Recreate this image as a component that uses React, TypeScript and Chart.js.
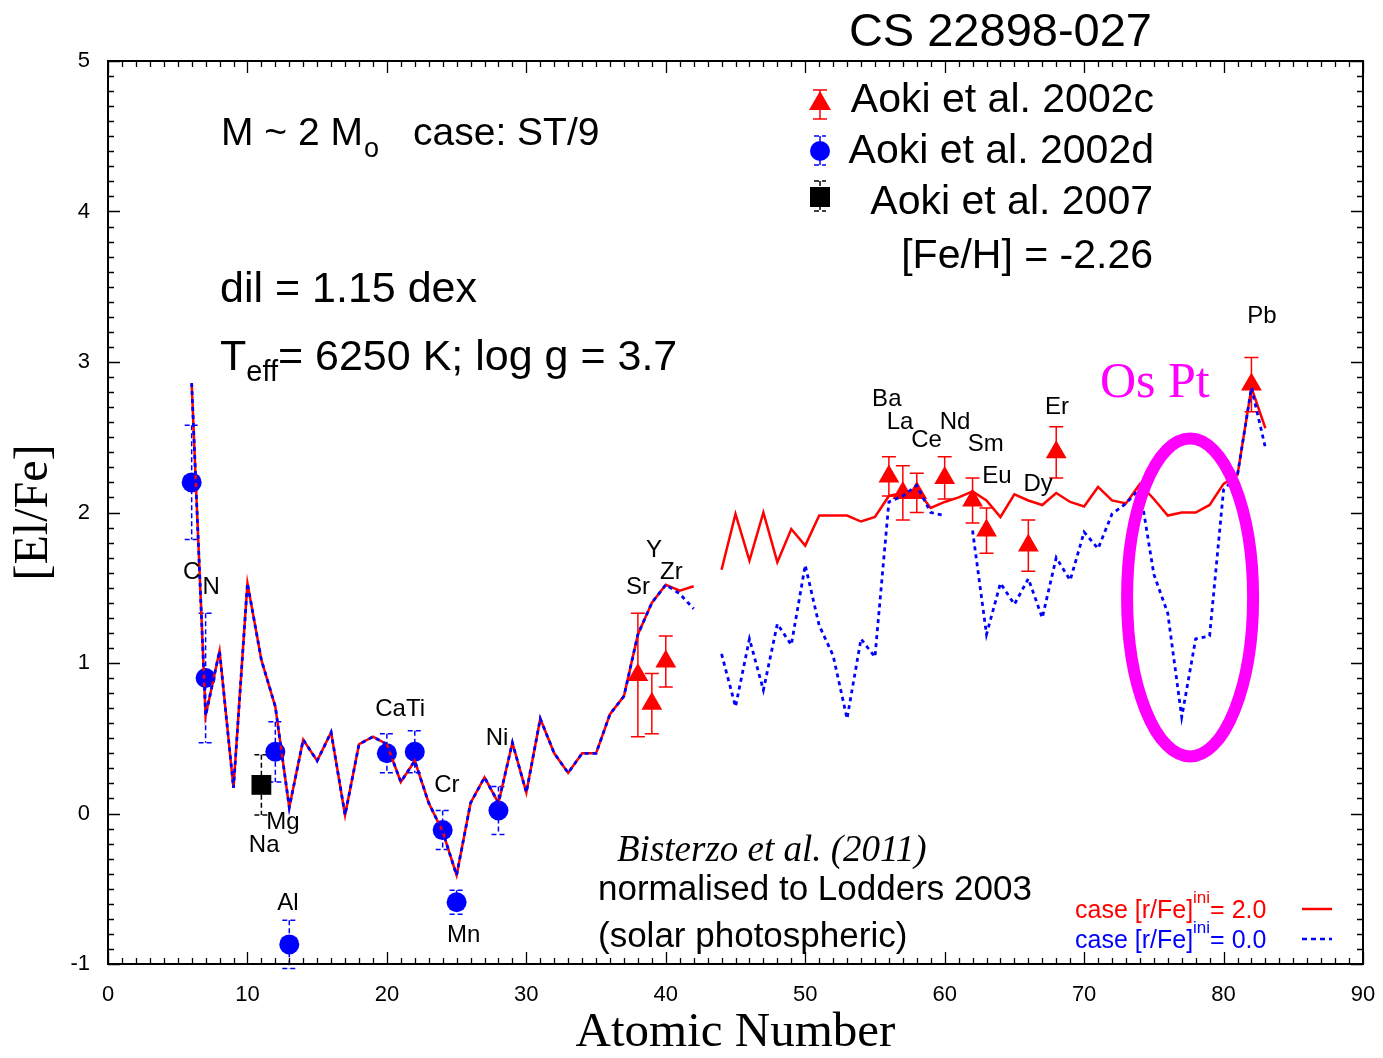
import React, { useEffect, useRef } from 'react';
import { Chart, registerables } from 'chart.js';

Chart.register(...registerables);

// ---------------- data ----------------
const modelZ = [
  6, 7, 8, 9, 10, 11, 12, 13, 14, 15, 16, 17, 18, 19, 20, 21, 22, 23, 24, 25,
  26, 27, 28, 29, 30, 31, 32, 33, 34, 35, 36, 37, 38, 39, 40, 41, 42, 43, 44, 45,
  46, 47, 48, 49, 50, 51, 52, 53, 54, 55, 56, 57, 58, 59, 60, 61, 62, 63, 64, 65,
  66, 67, 68, 69, 70, 71, 72, 73, 74, 75, 76, 77, 78, 79, 80, 81, 82, 83,
];
// case [r/Fe]ini = 2.0
const modelRFe2 = [
  2.86, 0.65, 1.08, 0.17, 1.53, 1.02, 0.71, 0.04, 0.49, 0.35, 0.54, -0.01, 0.46, 0.51, 0.46, 0.21, 0.35, 0.07, -0.12, -0.41,
  0.07, 0.24, 0.07, 0.47, 0.14, 0.63, 0.40, 0.27, 0.40, 0.40, 0.66, 0.78, 1.19, 1.40, 1.52, 1.48, 1.51, null, 1.62, 1.99,
  1.68, 2.00, 1.67, 1.89, 1.78, 1.98, 1.98, 1.98, 1.94, 1.97, 2.11, 2.13, 2.15, 2.03, 2.07, 2.10, 2.14, 2.08, 1.97, 2.12,
  2.08, 2.05, 2.13, 2.07, 2.04, 2.17, 2.08, 2.06, 2.19, 2.09, 1.98, 2.00, 2.00, 2.05, 2.19, 2.25, 2.83, 2.56,
];
// case [r/Fe]ini = 0.0
const modelRFe0 = [
  2.86, 0.65, 1.08, 0.17, 1.53, 1.02, 0.71, 0.04, 0.49, 0.35, 0.54, -0.01, 0.46, 0.51, 0.46, 0.21, 0.35, 0.07, -0.12, -0.41,
  0.07, 0.24, 0.07, 0.47, 0.14, 0.63, 0.40, 0.27, 0.40, 0.40, 0.66, 0.78, 1.19, 1.40, 1.52, 1.46, 1.36, null, 1.06, 0.71,
  1.16, 0.82, 1.26, 1.12, 1.65, 1.25, 1.05, 0.63, 1.16, 1.04, 2.07, 2.11, 2.18, 2.00, 1.98, null, 1.88, 1.19, 1.53, 1.39,
  1.56, 1.30, 1.70, 1.55, 1.87, 1.76, 1.99, 2.06, 2.16, 1.59, 1.33, 0.64, 1.16, 1.18, 2.15, 2.25, 2.83, 2.43,
];

const aoki2002cZ = [38, 39, 40, 56, 57, 58, 60, 62, 63, 66, 68, 82];
const aoki2002cVal = [0.92, 0.73, 1.01, 2.24, 2.13, 2.13, 2.23, 2.08, 1.88, 1.78, 2.40, 2.85];
const aoki2002cErr = [0.41, 0.20, 0.17, 0.13, 0.18, 0.13, 0.14, 0.15, 0.15, 0.17, 0.17, 0.18];

const aoki2002dZ = [6, 7, 12, 13, 20, 22, 24, 25, 28];
const aoki2002dVal = [2.20, 0.90, 0.41, -0.87, 0.40, 0.41, -0.11, -0.59, 0.02];
const aoki2002dErr = [0.38, 0.43, 0.20, 0.16, 0.13, 0.14, 0.13, 0.08, 0.16];

const aoki2007Z = [11];
const aoki2007Val = [0.19];
const aoki2007Err = [0.20];

const xTickValues = [0, 10, 20, 30, 40, 50, 60, 70, 80, 90];
const yTickValues = [-1, 0, 1, 2, 3, 4, 5];

const elementNames = ['C', 'N', 'Na', 'Mg', 'Al', 'CaTi', 'Cr', 'Ni', 'Mn', 'Sr', 'Y', 'Zr', 'Ba', 'La', 'Ce', 'Nd', 'Sm', 'Eu', 'Dy', 'Er', 'Pb'];

// label anchors (data coordinates: atomic number, [El/Fe])
const labelAnchorZ = [6.0, 7.4, 11.2, 12.55, 12.9, 20.95, 24.3, 27.9, 25.5, 38.0, 39.15, 40.4, 55.85, 56.8, 58.7, 60.75, 62.95, 63.75, 66.7, 68.05, 82.75];
const labelAnchorY = [1.60, 1.50, -0.21, -0.06, -0.60, 0.69, 0.19, 0.50, -0.81, 1.50, 1.75, 1.60, 2.75, 2.60, 2.48, 2.60, 2.45, 2.24, 2.19, 2.70, 3.30];

const RED = '#ff0000';
const BLUE = '#0000ff';
const MAGENTA = '#ff00ff';
const SANS = '"Liberation Sans", Arial, sans-serif';
const SERIF = '"Liberation Serif", "Times New Roman", serif';

function pts(xs: number[], ys: (number | null)[]) {
  return xs.map((x, i) => ({ x, y: ys[i] }));
}

function errBar(ctx: CanvasRenderingContext2D, x: number, yTop: number, yBot: number, cap: number, color: string, dashed: boolean) {
  ctx.save();
  ctx.strokeStyle = color;
  ctx.lineWidth = 1.5;
  ctx.setLineDash(dashed ? [5, 3] : []);
  ctx.beginPath();
  ctx.moveTo(x, yTop);
  ctx.lineTo(x, yBot);
  ctx.moveTo(x - cap, yTop);
  ctx.lineTo(x + cap, yTop);
  ctx.moveTo(x - cap, yBot);
  ctx.lineTo(x + cap, yBot);
  ctx.stroke();
  ctx.restore();
}

const customPlugin = {
  id: 'customDecor',
  beforeDatasetsDraw(chart: any) {
    const ctx: CanvasRenderingContext2D = chart.ctx;
    const xs = chart.scales.x;
    const ys = chart.scales.y;
    const groups = [
      { z: aoki2002dZ, v: aoki2002dVal, e: aoki2002dErr, c: BLUE, d: true },
      { z: aoki2002cZ, v: aoki2002cVal, e: aoki2002cErr, c: RED, d: false },
      { z: aoki2007Z, v: aoki2007Val, e: aoki2007Err, c: '#000', d: true },
    ];
    for (const g of groups) {
      g.z.forEach((z, i) => {
        const px = xs.getPixelForValue(z);
        errBar(ctx, px, ys.getPixelForValue(g.v[i] + g.e[i]), ys.getPixelForValue(g.v[i] - g.e[i]), 7, g.c, g.d);
      });
    }
  },
  afterDatasetsDraw(chart: any) {
    const ctx: CanvasRenderingContext2D = chart.ctx;
    const { left, right, top, bottom } = chart.chartArea;
    const xs = chart.scales.x;
    const ys = chart.scales.y;
    ctx.save();
    ctx.strokeStyle = '#000';
    ctx.lineWidth = 2;
    ctx.strokeRect(left, top, right - left, bottom - top);
    ctx.lineWidth = 1.3;
    ctx.beginPath();
    for (let i = 0; i <= 90; i++) {
      const px = Math.round(xs.getPixelForValue(i)) + 0.5;
      const len = i % 10 === 0 ? 12 : 6;
      ctx.moveTo(px, bottom);
      ctx.lineTo(px, bottom - len);
      ctx.moveTo(px, top);
      ctx.lineTo(px, top + len);
    }
    for (let i = -10; i <= 50; i++) {
      const py = Math.round(ys.getPixelForValue(i / 10)) + 0.5;
      const len = i % 10 === 0 ? 12 : 6;
      ctx.moveTo(left, py);
      ctx.lineTo(left + len, py);
      ctx.moveTo(right, py);
      ctx.lineTo(right - len, py);
    }
    ctx.stroke();

    // magenta ellipse around Os-Pt
    ctx.strokeStyle = MAGENTA;
    ctx.lineWidth = 12;
    ctx.beginPath();
    ctx.ellipse(xs.getPixelForValue(77.6), ys.getPixelForValue(1.435), 63, 159, 0, 0, Math.PI * 2);
    ctx.stroke();
    ctx.restore();
  },
  afterDraw(chart: any) {
    const ctx: CanvasRenderingContext2D = chart.ctx;
    const xs = chart.scales.x;
    const ys = chart.scales.y;
    ctx.save();
    ctx.fillStyle = '#000';

    // element labels
    ctx.font = `24px ${SANS}`;
    ctx.textAlign = 'center';
    ctx.textBaseline = 'middle';
    elementNames.forEach((n, i) => {
      ctx.fillText(n, xs.getPixelForValue(labelAnchorZ[i]), ys.getPixelForValue(labelAnchorY[i]));
    });

    ctx.textBaseline = 'alphabetic';
    // title
    ctx.textAlign = 'right';
    ctx.font = `47px ${SANS}`;
    ctx.fillText('CS 22898-027', 1152, 46);

    // legend
    ctx.font = `41px ${SANS}`;
    ctx.fillText('Aoki et al. 2002c', 1154, 112);
    ctx.fillText('Aoki et al. 2002d', 1154, 163);
    ctx.fillText('Aoki et al. 2007', 1153, 214);
    ctx.fillText('[Fe/H] = -2.26', 1153, 268);

    // legend markers
    errBar(ctx, 820, 90, 119, 7, RED, false);
    ctx.fillStyle = RED;
    ctx.beginPath();
    ctx.moveTo(820, 91);
    ctx.lineTo(831, 110);
    ctx.lineTo(809, 110);
    ctx.closePath();
    ctx.fill();
    errBar(ctx, 820, 136, 165, 6, BLUE, true);
    ctx.fillStyle = BLUE;
    ctx.beginPath();
    ctx.arc(820, 151, 10, 0, Math.PI * 2);
    ctx.fill();
    errBar(ctx, 820, 181, 211, 6, '#000', true);
    ctx.fillStyle = '#000';
    ctx.fillRect(810, 187, 20, 20);

    // left annotations
    ctx.textAlign = 'left';
    ctx.fillStyle = '#000';
    ctx.font = `39px ${SANS}`;
    let x = 221;
    ctx.fillText('M ~ 2 M', x, 145);
    x += ctx.measureText('M ~ 2 M').width;
    ctx.font = `27px ${SANS}`;
    ctx.fillText('o', x + 1, 157);
    ctx.font = `39px ${SANS}`;
    ctx.fillText('case: ST/9', 413, 145);
    ctx.font = `43px ${SANS}`;
    ctx.fillText('dil = 1.15 dex', 220, 302);
    x = 220;
    ctx.fillText('T', x, 370);
    x += ctx.measureText('T').width;
    ctx.font = `29px ${SANS}`;
    ctx.fillText('eff', x, 381);
    x += ctx.measureText('eff').width;
    ctx.font = `43px ${SANS}`;
    ctx.fillText('= 6250 K; log g = 3.7', x, 370);

    // Os Pt
    ctx.fillStyle = MAGENTA;
    ctx.font = `50px ${SERIF}`;
    ctx.fillText('Os Pt', 1100, 397);

    // reference notes
    ctx.fillStyle = '#000';
    ctx.font = `italic 37px ${SERIF}`;
    ctx.fillText('Bisterzo et al. (2011)', 617, 861);
    ctx.font = `35px ${SANS}`;
    ctx.fillText('normalised to Lodders 2003', 598, 900);
    ctx.fillText('(solar photospheric)', 598, 947);

    // model legend (bottom right)
    const rows = [
      { c: RED, label: '= 2.0', y: 918, dash: [] as number[] },
      { c: BLUE, label: '= 0.0', y: 948, dash: [5, 4] },
    ];
    for (const r of rows) {
      ctx.fillStyle = r.c;
      ctx.font = `25px ${SANS}`;
      let lx = 1075;
      ctx.fillText('case [r/Fe]', lx, r.y);
      lx += ctx.measureText('case [r/Fe]').width;
      ctx.font = `17px ${SANS}`;
      ctx.fillText('ini', lx, r.y - 15);
      lx += ctx.measureText('ini').width;
      ctx.font = `25px ${SANS}`;
      ctx.fillText(r.label, lx, r.y);
      ctx.strokeStyle = r.c;
      ctx.lineWidth = 2.5;
      ctx.setLineDash(r.dash);
      ctx.beginPath();
      ctx.moveTo(1302, r.y - 9);
      ctx.lineTo(1332, r.y - 9);
      ctx.stroke();
      ctx.setLineDash([]);
    }
    ctx.restore();
  },
};

export default function App() {
  const canvasRef = useRef<HTMLCanvasElement>(null);

  useEffect(() => {
    const canvas = canvasRef.current;
    if (!canvas) return;
    const chart = new Chart(canvas, {
      type: 'scatter',
      data: {
        datasets: [
          {
            label: 'case [r/Fe]ini = 0.0',
            data: pts(modelZ, modelRFe0),
            showLine: true,
            spanGaps: false,
            borderColor: BLUE,
            borderWidth: 2.8,
            borderDash: [4, 4],
            pointRadius: 0,
            order: 0,
          },
          {
            label: 'case [r/Fe]ini = 2.0',
            data: pts(modelZ, modelRFe2),
            showLine: true,
            spanGaps: false,
            borderColor: RED,
            borderWidth: 2.5,
            pointRadius: 0,
            order: 1,
          },
          {
            label: 'Aoki et al. 2002c',
            data: pts(aoki2002cZ, aoki2002cVal),
            pointStyle: 'triangle',
            pointRadius: 12,
            backgroundColor: RED,
            borderColor: RED,
            borderWidth: 0,
            order: 2,
          },
          {
            label: 'Aoki et al. 2002d',
            data: pts(aoki2002dZ, aoki2002dVal),
            pointStyle: 'circle',
            pointRadius: 10,
            backgroundColor: BLUE,
            borderColor: BLUE,
            borderWidth: 0,
            order: 2,
          },
          {
            label: 'Aoki et al. 2007',
            data: pts(aoki2007Z, aoki2007Val),
            pointStyle: 'rect',
            pointRadius: 14,
            backgroundColor: '#000',
            borderColor: '#000',
            borderWidth: 0,
            order: 2,
          },
        ],
      },
      options: {
        animation: false,
        responsive: false,
        maintainAspectRatio: false,
        devicePixelRatio: 1,
        layout: { padding: { top: 61, right: 20, left: 0, bottom: 0 } },
        plugins: {
          legend: { display: false },
          tooltip: { enabled: false },
          title: { display: false },
        },
        scales: {
          x: {
            type: 'linear',
            min: 0,
            max: 90,
            afterFit: (s: any) => { s.height = 94; s.paddingLeft = 0; s.paddingRight = 0; },
            afterBuildTicks: (s: any) => { s.ticks = xTickValues.map((v) => ({ value: v })); },
            grid: { display: false, drawTicks: false },
            border: { display: false },
            ticks: {
              padding: 18,
              color: '#000',
              font: { family: SANS, size: 22 },
              maxRotation: 0,
            },
            title: {
              display: true,
              text: 'Atomic Number',
              color: '#000',
              font: { family: SERIF, size: 49, lineHeight: 1 },
              padding: { top: 0, bottom: 0 },
            },
          },
          y: {
            type: 'linear',
            min: -1,
            max: 5,
            afterFit: (s: any) => { s.width = 108; s.paddingTop = 0; s.paddingBottom = 0; },
            afterBuildTicks: (s: any) => { s.ticks = yTickValues.map((v) => ({ value: v })); },
            grid: { display: false, drawTicks: false },
            border: { display: false },
            ticks: {
              padding: 18,
              color: '#000',
              font: { family: SANS, size: 22 },
            },
            title: {
              display: true,
              text: '[El/Fe]',
              color: '#000',
              font: { family: SERIF, size: 48, lineHeight: 1.2 },
              padding: { top: 6, bottom: 0 },
            },
          },
        },
      },
      plugins: [customPlugin],
    } as any);
    return () => chart.destroy();
  }, []);

  return (
    <div style={{ position: 'absolute', left: 0, top: 0, width: 1383, height: 1058, background: '#fff' }}>
      <canvas ref={canvasRef} width={1383} height={1058} style={{ width: 1383, height: 1058, display: 'block' }} />
    </div>
  );
}
